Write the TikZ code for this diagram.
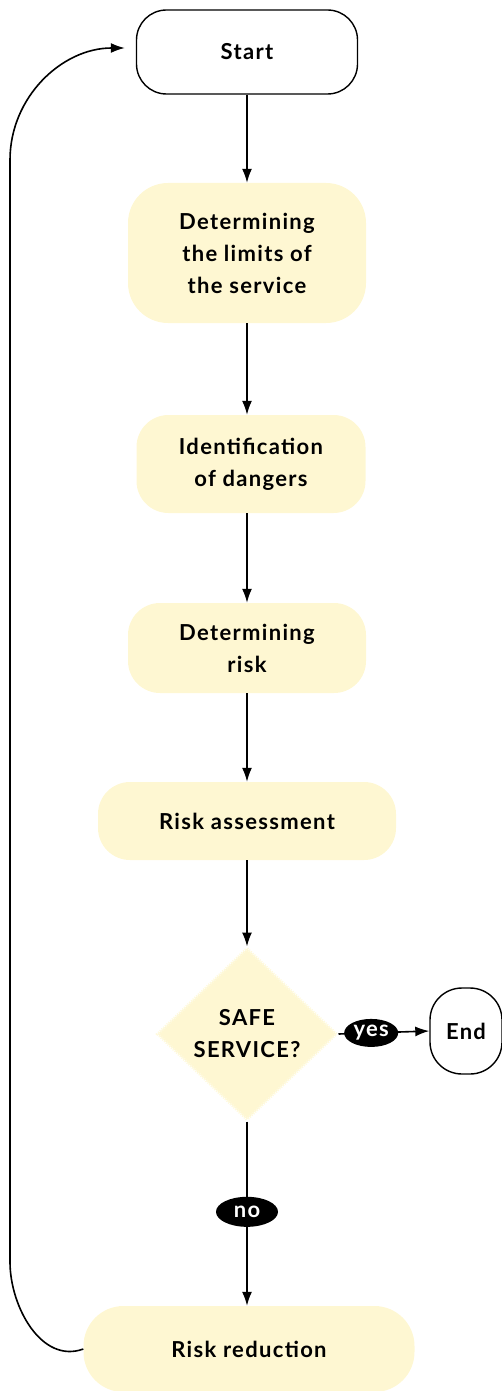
\documentclass[tikz,border=0pt]{standalone}
\usepackage{fontspec}
\setmainfont{Lato}[LetterSpace=6]
\usetikzlibrary{arrows.meta,shapes.geometric}
\definecolor{paleyellow}{RGB}{254,247,210}
\definecolor{edgeyellow}{RGB}{255,250,222}

\begin{document}
\begin{tikzpicture}[
    x=1pt, y=-1pt,
    box/.style={rectangle, fill=paleyellow, rounded corners=32pt, align=center,
                inner sep=0pt, font=\bfseries\fontsize{22}{32}\selectfont},
    term/.style={rectangle, draw=black, line width=1.4pt, fill=white,
                 rounded corners=30pt, align=center, inner sep=0pt,
                 font=\bfseries\fontsize{22}{32}\selectfont},
    pill/.style={ellipse, fill=black, text=white, inner sep=0pt,
                 font=\bfseries\fontsize{22}{22}\selectfont},
    line/.style={-{Latex[length=14pt, width=10pt]}, line width=1.6pt},
  ]
  \useasboundingbox (0,0) rectangle (502,1391);

  \node[term, minimum width=221pt, minimum height=84pt] (start) at (247,52) {Start};

  \node[box, minimum width=238pt, minimum height=140pt, rounded corners=40pt] (limits) at (247,253)
    {Determining\\the limits of\\the service};
  \node[box, minimum width=229pt, minimum height=98pt] (dangers) at (251,464)
    {Identification\\of dangers};
  \node[box, minimum width=238pt, minimum height=90pt] (risk) at (247,648)
    {Determining\\risk};
  \node[box, minimum width=298pt, minimum height=78pt] (assess) at (247,821)
    {Risk assessment};

  \node[diamond, fill=paleyellow, draw=edgeyellow, line width=3pt,
        dash pattern=on 1.2pt off 1.2pt, inner sep=0pt,
        minimum width=180pt, minimum height=172pt, align=center,
        font=\bfseries\fontsize{22}{32}\selectfont] (safe) at (247,1034)
    {SAFE\\SERVICE?};

  \node[term, minimum width=72pt, minimum height=86pt, rounded corners=32pt] (end) at (466,1031) {End};

  \node[box, minimum width=331pt, minimum height=86pt, rounded corners=40pt] (reduce) at (249,1349)
    {Risk reduction};

  % main chain
  \draw[line] (start) -- (limits);
  \draw[line] (limits) -- (dangers.north -| limits);
  \draw[line] (dangers.south -| limits) -- (risk);
  \draw[line] (risk) -- (assess);
  \draw[line] (assess) -- (safe);

  % decision
  \draw[line] (safe.east) -- node[pill, minimum width=54pt, minimum height=28pt, pos=0.36] (yes) {yes} (end.west);
  \draw[line] (safe.south) -- node[pill, minimum width=62pt, minimum height=30pt, pos=0.49] (no) {no} (reduce.north -| safe);

  % loop back to the start
  \coordinate (loopbot) at (10,1262);
  \coordinate (looptop) at (10,160);
  \draw[line] (reduce.west) to[out=200, in=-90] (loopbot) -- (looptop)
    to[out=90, in=180] ([xshift=-11pt]start.west |- 0,48);

\end{tikzpicture}
\end{document}
